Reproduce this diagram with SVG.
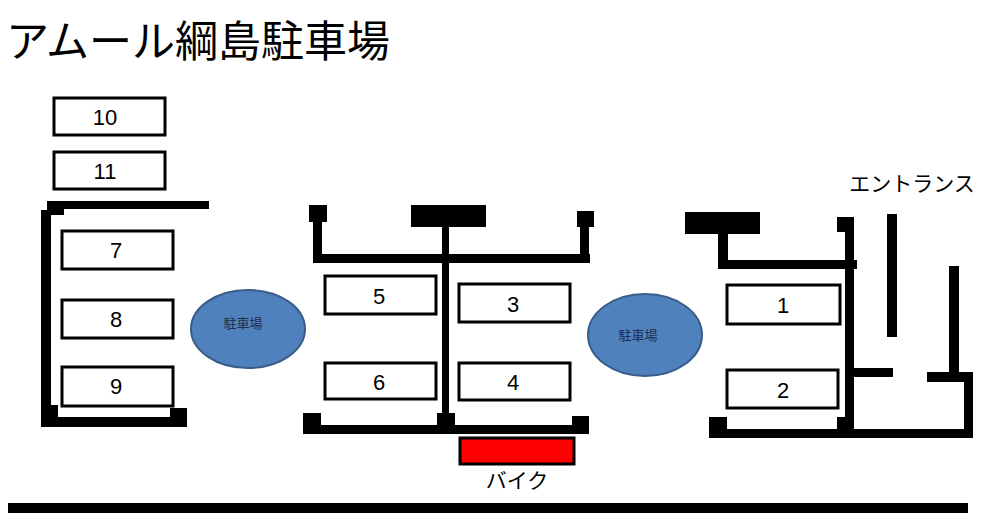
<svg xmlns="http://www.w3.org/2000/svg" width="992" height="528" viewBox="0 0 992 528">
<style>
.s{fill:#fff;stroke:#000;stroke-width:3}
.w{fill:#000}
.n{font-family:"Liberation Sans","Noto Sans CJK JP",sans-serif;font-size:22px;text-anchor:middle;fill:#000}
.j{font-family:"Noto Sans CJK JP",sans-serif;fill:#000}
.e{fill:#4f81bd;stroke:#385d8a;stroke-width:2}
.el{font-family:"Noto Sans CJK JP",sans-serif;font-size:13px;fill:#1f2f4f;text-anchor:middle}
</style>
<rect width="992" height="528" fill="#fff"/>
<text class="j" x="6" y="57" font-size="43">アムール綱島駐車場</text>
<g id="walls" class="w">
<rect x="47" y="201" width="162" height="8"/><rect x="47" y="201" width="17" height="14"/>
<rect x="41" y="210" width="10" height="217"/><rect x="41" y="417" width="146" height="10"/>
<rect x="41" y="405" width="17" height="22"/><rect x="170" y="408" width="17" height="19"/>
<rect x="309" y="205" width="18" height="17"/><rect x="313" y="205" width="9" height="58"/>
<rect x="313" y="254" width="277" height="9"/><rect x="411" y="205" width="75" height="22"/>
<rect x="442" y="227" width="7" height="201"/><rect x="577" y="211" width="17" height="16"/>
<rect x="580" y="211" width="9" height="52"/>
<rect x="303" y="425" width="286" height="9"/><rect x="303" y="413" width="18" height="21"/>
<rect x="437" y="413" width="18" height="21"/><rect x="572" y="416" width="17" height="18"/>
<rect x="685" y="212" width="75" height="22"/><rect x="718" y="234" width="10" height="35"/>
<rect x="718" y="260" width="139" height="9"/><rect x="845" y="217" width="9" height="221"/>
<rect x="837" y="217" width="17" height="15"/>
<rect x="709" y="429" width="264" height="9"/><rect x="709" y="417" width="18" height="21"/>
<rect x="837" y="417" width="17" height="21"/>
<rect x="887" y="214" width="10" height="123"/><rect x="949" y="266" width="10" height="107"/>
<rect x="854" y="368" width="39" height="9"/><rect x="927" y="372" width="46" height="10"/>
<rect x="964" y="372" width="9" height="66"/>
<rect x="8" y="503" width="960" height="10"/>
</g>
<g id="n10"><rect class="s" x="54" y="98" width="111" height="37"/><text class="n" x="105" y="125">10</text></g>
<g id="n11"><rect class="s" x="54" y="152" width="111" height="37"/><text class="n" x="105" y="179">11</text></g>
<g id="n7"><rect class="s" x="62" y="231" width="111" height="38"/><text class="n" x="116" y="258">7</text></g>
<g id="n8"><rect class="s" x="62" y="300" width="111" height="38"/><text class="n" x="116" y="327">8</text></g>
<g id="n9"><rect class="s" x="62" y="367" width="111" height="39"/><text class="n" x="116" y="394">9</text></g>
<g id="n5"><rect class="s" x="325" y="276" width="111" height="38"/><text class="n" x="379" y="304">5</text></g>
<g id="n3"><rect class="s" x="459" y="284" width="111" height="38"/><text class="n" x="513" y="312">3</text></g>
<g id="n6"><rect class="s" x="325" y="363" width="111" height="36"/><text class="n" x="379" y="390">6</text></g>
<g id="n4"><rect class="s" x="459" y="363" width="111" height="37"/><text class="n" x="513" y="390">4</text></g>
<g id="n1"><rect class="s" x="727" y="285" width="113" height="39"/><text class="n" x="783" y="313">1</text></g>
<g id="n2"><rect class="s" x="727" y="370" width="111" height="38"/><text class="n" x="783" y="398">2</text></g>
<g id="bike"><rect x="460" y="438" width="114" height="26" fill="#f00" stroke="#000" stroke-width="3"/><text class="j" x="517" y="488" font-size="21" text-anchor="middle">バイク</text></g>
<g id="p1"><ellipse class="e" cx="248" cy="329" rx="57" ry="39"/><text class="el" x="243" y="328">駐車場</text></g>
<g id="p2"><ellipse class="e" cx="645" cy="335" rx="57" ry="41"/><text class="el" x="638" y="340">駐車場</text></g>
<text class="j" x="912" y="191" font-size="21" text-anchor="middle">エントランス</text>
</svg>
